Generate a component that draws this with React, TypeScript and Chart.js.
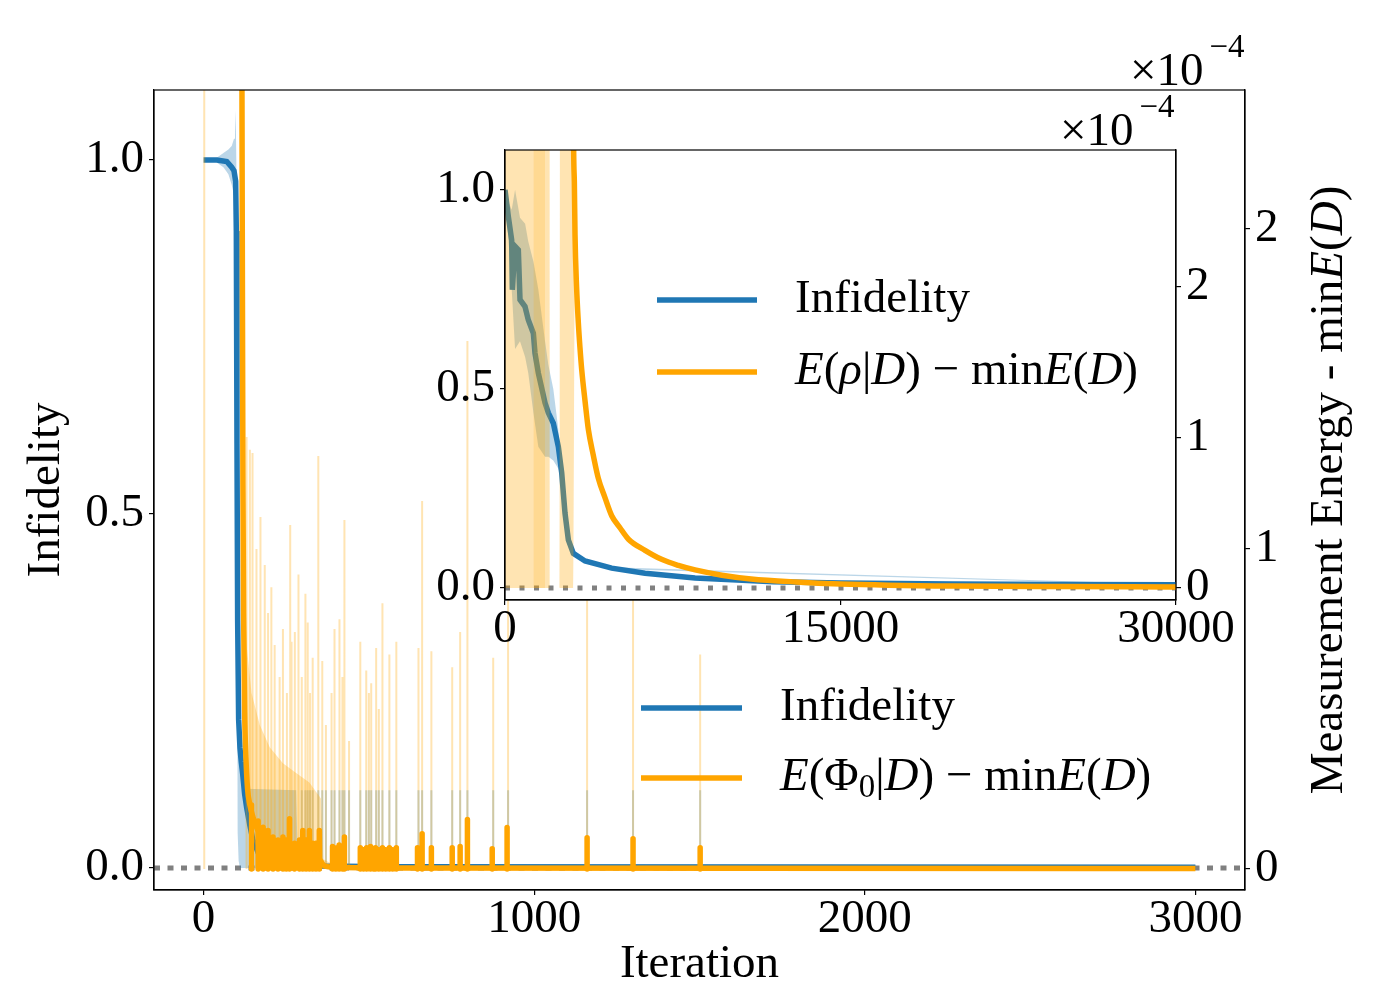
import React, { useEffect, useRef } from "react";
import { Chart, registerables } from "chart.js";

Chart.register(...registerables);

const SERIF = '"Liberation Serif", "Times New Roman", serif';
const BLUE = "#1f77b4";
const ORANGE = "#ffa500";
const BLUE_A = "rgba(31,119,180,0.3)";
const ORANGE_A = "rgba(255,165,0,0.3)";

// ---- main panel (0..3000 iterations) ----
const mainXTicks = [0, 1000, 2000, 3000];
const infTicks = [0, 0.5, 1.0];
const energyTicks = [0, 1, 2];

const blueIter = [0, 40, 70, 85, 92, 97, 99, 101, 103, 106, 110, 114, 118, 124, 130, 140, 149, 165, 179, 209, 260, 330, 600, 3000];
const blueInf = [1.0, 1.0, 0.998, 0.99, 0.985, 0.97, 0.9, 0.6, 0.35, 0.21, 0.17, 0.15, 0.134, 0.105, 0.086, 0.06, 0.04, 0.022, 0.014, 0.006, 0.004, 0.003, 0.002, 0.001];

const blueBandIter = [0, 30, 45, 60, 75, 85, 92, 95, 97, 99, 103, 106, 110, 118, 125, 280, 285, 3000];
const blueBandUpper = [1.0, 1.0, 1.005, 1.01, 1.015, 1.02, 1.03, 1.04, 1.07, 1.0, 0.6, 0.25, 0.15, 0.12, 0.112, 0.11, 0.004, 0.002];
const blueBandLower = [1.0, 1.0, 0.995, 0.99, 0.98, 0.965, 0.95, 0.94, 0.92, 0.85, 0.05, 0.01, 0, 0, 0, 0, 0, 0];

const energyIter = [112, 115, 117, 119, 121, 124, 128, 133, 140, 150, 160, 170, 185, 200, 230, 270, 300, 330, 350, 365, 400, 600, 3000];
const energyVal = [6, 3, 2.0, 1.2, 0.8, 0.5, 0.35, 0.25, 0.2, 0.16, 0.13, 0.11, 0.09, 0.078, 0.06, 0.05, 0.045, 0.04, 0.03, 0.01, 0.005, 0.003, 0.001];

const energyBandIter = [112, 115, 118, 122, 130, 145, 170, 200, 240, 280, 320, 355, 362, 400, 3000];
const energyBandUpper = [10, 10, 2.0, 1.0, 0.7, 0.55, 0.45, 0.38, 0.33, 0.3, 0.27, 0.22, 0.03, 0.01, 0.002];
const energyBandLower = [10, 2.8, 1.3, 0.6, 0.25, 0.1, 0.05, 0.03, 0.01, 0.01, 0.005, 0.005, 0, 0, 0];

// light (band) spikes of the energy, x10^-4
const lightSpikeIter = [2, 130, 140, 148, 160, 172, 185, 195, 205, 215, 230, 240, 252, 262, 266, 276, 287, 297, 308, 315, 322, 330, 347, 359, 370, 387, 396, 411, 420, 426, 440, 474, 492, 500, 507, 522, 530, 541, 562, 583, 650, 661, 689, 752, 776, 798, 876, 921, 1160, 1299, 1502];
const lightSpikeTop = [3, 1.35, 1.31, 1.3, 1.0, 1.1, 0.95, 0.8, 0.88, 0.7, 0.6, 0.75, 0.55, 1.075, 0.71, 0.74, 0.92, 0.6, 0.86, 0.77, 0.55, 0.66, 1.29, 0.65, 0.45, 0.55, 0.75, 0.78, 0.6, 1.09, 0.4, 0.71, 0.62, 0.55, 0.58, 0.69, 0.5, 0.83, 0.67, 0.71, 0.69, 1.15, 0.68, 0.63, 0.74, 1.65, 0.66, 1.2, 1.2, 1.2, 0.67];
const blueSpikeTop = 0.11;

// thick spikes on the mean energy line
const coreSpikeIter = [145, 165, 180, 195, 210, 225, 240, 250, 260, 275, 290, 300, 310, 320, 330, 340, 350, 390, 400, 410, 420, 426, 474, 484, 493, 505, 514, 520, 530, 541, 551, 562, 572, 583, 647, 661, 689, 752, 776, 798, 873, 918, 1160, 1299, 1502];
const coreSpikeTop = [0.2, 0.15, 0.13, 0.12, 0.1, 0.09, 0.1, 0.09, 0.157, 0.08, 0.09, 0.12, 0.09, 0.12, 0.08, 0.08, 0.12, 0.07, 0.065, 0.075, 0.07, 0.1, 0.066, 0.06, 0.066, 0.07, 0.06, 0.066, 0.06, 0.066, 0.06, 0.066, 0.06, 0.066, 0.066, 0.11, 0.066, 0.066, 0.07, 0.154, 0.063, 0.129, 0.097, 0.094, 0.066];

// ---- inset panel (0..30000 iterations) ----
const insetXTicks = [0, 15000, 30000];

const insetIter = [0, 149, 298, 328, 447, 596, 671, 894, 1043, 1267, 1341, 1490, 1789, 1938, 2161, 2385, 2534, 2683, 2832, 3056, 3578, 4770, 6261, 8497, 12000, 15000, 20000, 25000, 30000];
const insetInf = [1.0, 0.933, 0.874, 0.749, 0.858, 0.849, 0.724, 0.707, 0.673, 0.64, 0.59, 0.54, 0.465, 0.44, 0.414, 0.355, 0.29, 0.188, 0.121, 0.087, 0.068, 0.05, 0.037, 0.025, 0.016, 0.013, 0.01, 0.009, 0.008];

const insetBandIter = [0, 150, 300, 450, 670, 900, 1040, 1270, 1490, 1790, 1940, 2160, 2380, 2530, 2680, 2830, 3060, 3580, 4770, 30000];
const insetBandUpper = [1.0, 0.97, 0.95, 1.0, 0.93, 0.915, 0.87, 0.82, 0.75, 0.62, 0.56, 0.5, 0.4, 0.3, 0.2, 0.13, 0.095, 0.072, 0.052, 0.009];
const insetBandLower = [1.0, 0.88, 0.75, 0.6, 0.62, 0.58, 0.54, 0.44, 0.355, 0.33, 0.33, 0.32, 0.3, 0.28, 0.18, 0.112, 0.08, 0.064, 0.048, 0.007];

const insetEIter = [3000, 3056, 3100, 3130, 3200, 3280, 3350, 3430, 3580, 3730, 3950, 4170, 4470, 4770, 5140, 5520, 6260, 7000, 7750, 8500, 9700, 11000, 13000, 15000, 20000, 25000, 30000];
const insetE = [8, 3.2, 2.7, 2.35, 2.0, 1.76, 1.6, 1.45, 1.24, 1.05, 0.88, 0.73, 0.6, 0.48, 0.4, 0.324, 0.25, 0.19, 0.15, 0.12, 0.085, 0.06, 0.04, 0.027, 0.013, 0.009, 0.007];

const insetEBandIter = [0, 1990, 2000, 2450, 2460, 3060, 3130, 3280, 3430, 3730, 4170, 4770, 5520, 7000, 8500, 11000, 15000, 30000];
const insetEBandUpper = [10, 10, 0, 0, 10, 10, 2.45, 1.84, 1.51, 1.09, 0.76, 0.5, 0.34, 0.2, 0.128, 0.065, 0.03, 0.008];
const insetEBandLower = [0, 0, 0, 0, 0, 0, 2.25, 1.68, 1.39, 1.01, 0.7, 0.46, 0.31, 0.18, 0.112, 0.055, 0.024, 0.006];
const insetEDarkIter = [1270, 1790];
const insetEDarkTop = [10, 10];

type Seg = { t: string; i?: boolean; sub?: boolean };

const infLabel: Seg[] = [{ t: "Infidelity" }];
const phiLabel: Seg[] = [
  { t: "E", i: true }, { t: "(Φ" }, { t: "0", sub: true }, { t: "|" }, { t: "D", i: true },
  { t: ") − min" }, { t: "E", i: true }, { t: "(" }, { t: "D", i: true }, { t: ")" },
];
const rhoLabel: Seg[] = [
  { t: "E", i: true }, { t: "(" }, { t: "ρ", i: true }, { t: "|" }, { t: "D", i: true },
  { t: ") − min" }, { t: "E", i: true }, { t: "(" }, { t: "D", i: true }, { t: ")" },
];
const rightTitle: Seg[] = [{ t: "Measurement Energy - min" }, { t: "E", i: true }, { t: "(" }, { t: "D", i: true }, { t: ")" }];

function pts(xs: number[], ys: number[]) {
  return xs.map((x, i) => ({ x, y: ys[i] }));
}

function spikes(xs: number[], tops: number[] | number) {
  const out: any[] = [];
  xs.forEach((x, i) => {
    const top = typeof tops === "number" ? tops : tops[i];
    out.push({ x, y: 0 }, { x, y: top }, { x, y: null });
  });
  return out;
}

function setFont(ctx: CanvasRenderingContext2D, s: Seg, size: number) {
  const sz = s.sub ? size * 0.7 : size;
  ctx.font = `${s.i ? "italic " : ""}${sz}px ${SERIF}`;
}

function richWidth(ctx: CanvasRenderingContext2D, segs: Seg[], size: number) {
  let w = 0;
  segs.forEach((s) => { setFont(ctx, s, size); w += ctx.measureText(s.t).width; });
  return w;
}

function drawRich(ctx: CanvasRenderingContext2D, segs: Seg[], x: number, y: number, size: number) {
  let cx = x;
  segs.forEach((s) => {
    setFont(ctx, s, size);
    ctx.fillText(s.t, cx, s.sub ? y + size * 0.22 : y);
    cx += ctx.measureText(s.t).width;
  });
}

type Decor = {
  white?: boolean;
  legend: { x1: number; x2: number; tx: number; rows: { color: string; y: number; segs: Seg[] }[] };
  exp: { x: number; y: number };
  rightTitle?: { x: number; y: number };
};

function decorPlugin(cfg: Decor) {
  return {
    id: "decor",
    beforeDraw(chart: any) {
      if (!cfg.white) return;
      const { ctx, chartArea: a } = chart;
      ctx.save();
      ctx.fillStyle = "#fff";
      ctx.fillRect(a.left, a.top, a.right - a.left, a.bottom - a.top);
      ctx.restore();
    },
    afterDatasetsDraw(chart: any) {
      const { ctx, chartArea: a } = chart;
      ctx.save();
      ctx.strokeStyle = "#000";
      ctx.lineWidth = 1.2;
      ctx.strokeRect(a.left, a.top, a.right - a.left, a.bottom - a.top);
      ctx.restore();
    },
    afterDraw(chart: any) {
      const ctx: CanvasRenderingContext2D = chart.ctx;
      ctx.save();
      ctx.fillStyle = "#000";
      ctx.textBaseline = "middle";
      ctx.textAlign = "left";
      const lg = cfg.legend;
      lg.rows.forEach((r) => {
        ctx.strokeStyle = r.color;
        ctx.lineWidth = 5.5;
        ctx.lineCap = "butt";
        ctx.beginPath();
        ctx.moveTo(lg.x1, r.y);
        ctx.lineTo(lg.x2, r.y);
        ctx.stroke();
        drawRich(ctx, r.segs, lg.tx, r.y, 47);
      });
      // offset text of the right axis
      ctx.textBaseline = "alphabetic";
      ctx.font = `47px ${SERIF}`;
      ctx.fillText("×10", cfg.exp.x, cfg.exp.y);
      const w = ctx.measureText("×10").width;
      ctx.font = `33px ${SERIF}`;
      ctx.fillText("−4", cfg.exp.x + w + 6, cfg.exp.y - 28);
      if (cfg.rightTitle) {
        ctx.translate(cfg.rightTitle.x, cfg.rightTitle.y);
        ctx.rotate(-Math.PI / 2);
        ctx.textBaseline = "middle";
        const tw = richWidth(ctx, rightTitle, 47);
        drawRich(ctx, rightTitle, -tw / 2, 0, 47);
      }
      ctx.restore();
    },
  };
}

const tickFont = { family: SERIF, size: 47, lineHeight: 1 };

function axis(position: string, min: number, max: number, values: number[], fmt: (v: number) => string, size: number, title?: any) {
  const horiz = position === "bottom";
  return {
    type: "linear",
    position,
    min,
    max,
    grid: { drawOnChartArea: false, drawTicks: true, tickLength: 5, color: "#000", lineWidth: 1.2 },
    border: { display: true, color: "#000", width: 1.2 },
    ticks: {
      color: "#000",
      font: tickFont,
      padding: horiz ? 1 : 5,
      autoSkip: false,
      maxRotation: 0,
      minRotation: 0,
      callback: (v: any) => fmt(Number(v)),
    },
    title: title || { display: false },
    afterBuildTicks: (s: any) => {
      s.ticks = values.map((v) => ({ value: v }));
    },
    afterFit: (s: any) => {
      if (horiz) s.height = size;
      else s.width = size;
    },
  };
}

const line = (data: any[], color: string, width: number, yAxisID: string, order: number, extra: any = {}) => ({
  type: "line",
  data,
  borderColor: color,
  borderWidth: width,
  pointRadius: 0,
  tension: 0,
  fill: false,
  yAxisID,
  order,
  ...extra,
});

const smooth = { cubicInterpolationMode: "monotone" };

export default function App() {
  const mainRef = useRef<HTMLCanvasElement | null>(null);
  const insetRef = useRef<HTMLCanvasElement | null>(null);

  useEffect(() => {
    if (!mainRef.current || !insetRef.current) return;

    const mainChart = new Chart(mainRef.current, {
      type: "line",
      data: {
        datasets: [
          line(pts(blueBandIter, blueBandLower), "rgba(0,0,0,0)", 0, "y", 9),
          line(pts(blueBandIter, blueBandUpper), "rgba(0,0,0,0)", 0, "y", 9, { fill: { target: 0 }, backgroundColor: BLUE_A }),
          line(spikes(lightSpikeIter.filter((x) => x >= 290), blueSpikeTop), BLUE_A, 2, "y", 8),
          line(pts(blueIter, blueInf), BLUE, 5.5, "y", 7),
          line(pts(energyBandIter, energyBandLower), "rgba(0,0,0,0)", 0, "y2", 6),
          line(pts(energyBandIter, energyBandUpper), "rgba(0,0,0,0)", 0, "y2", 6, { fill: { target: 4 }, backgroundColor: ORANGE_A }),
          line(spikes(lightSpikeIter, lightSpikeTop), ORANGE_A, 2, "y2", 5),
          line(pts(energyIter, energyVal), ORANGE, 5.5, "y2", 4, smooth),
          line(spikes(coreSpikeIter, coreSpikeTop), ORANGE, 5.5, "y2", 3, { borderCapStyle: "round" }),
          line(pts([-150, 3150], [0, 0]), "#808080", 5, "y", 10, { borderDash: [6, 7.5] }),
        ] as any,
      },
      options: {
        animation: false,
        responsive: false,
        layout: { padding: { top: 90, left: 0, right: 0, bottom: 0 } },
        plugins: { legend: { display: false }, tooltip: { enabled: false } },
        scales: {
          x: axis("bottom", -150, 3150, mainXTicks, (v) => String(v), 110, {
            display: true, text: "Iteration", color: "#000",
            font: { family: SERIF, size: 47, lineHeight: 1.2 }, padding: { top: 0, bottom: 7 },
          }),
          y: axis("left", -0.031, 1.099, infTicks, (v) => v.toFixed(1), 154, {
            display: true, text: "Infidelity", color: "#000",
            font: { family: SERIF, size: 47, lineHeight: 1.2 }, padding: { top: 18, bottom: 0 },
          }),
          y2: axis("right", -0.066, 2.434, energyTicks, (v) => String(v), 155),
        } as any,
      },
      plugins: [
        decorPlugin({
          legend: {
            x1: 641, x2: 742, tx: 780,
            rows: [
              { color: BLUE, y: 708, segs: infLabel },
              { color: ORANGE, y: 778, segs: phiLabel },
            ],
          },
          exp: { x: 1130, y: 85 },
          rightTitle: { x: 1330, y: 490 },
        }),
      ],
    });

    const insetChart = new Chart(insetRef.current, {
      type: "line",
      data: {
        datasets: [
          line(pts(insetBandIter, insetBandLower), "rgba(0,0,0,0)", 0, "y", 9),
          line(pts(insetBandIter, insetBandUpper), "rgba(0,0,0,0)", 0, "y", 9, { fill: { target: 0 }, backgroundColor: BLUE_A }),
          line(pts(insetIter, insetInf), BLUE, 5.5, "y", 7),
          line(pts(insetEBandIter, insetEBandLower), "rgba(0,0,0,0)", 0, "y2", 6, smooth),
          line(pts(insetEBandIter, insetEBandUpper), "rgba(0,0,0,0)", 0, "y2", 6, { ...smooth, fill: { target: 3 }, backgroundColor: ORANGE_A }),
          line(pts(insetEDarkIter, insetEDarkTop), "rgba(0,0,0,0)", 0, "y2", 5, { fill: "origin", backgroundColor: "rgba(255,165,0,0.18)" }),
          line(pts(insetEIter, insetE), ORANGE, 5.5, "y2", 4, smooth),
          line(pts([0, 30000], [0, 0]), "#808080", 5, "y", 10, { borderDash: [5, 9.5] }),
        ] as any,
      },
      options: {
        animation: false,
        responsive: false,
        layout: { padding: { top: 150, left: 405, right: 124, bottom: 330 } },
        plugins: { legend: { display: false }, tooltip: { enabled: false } },
        scales: {
          x: axis("bottom", 0, 30000, insetXTicks, (v) => String(v), 70),
          y: axis("left", -0.03, 1.1, infTicks, (v) => v.toFixed(1), 100),
          y2: axis("right", -0.08, 2.91, energyTicks, (v) => String(v), 100),
        } as any,
      },
      plugins: [
        decorPlugin({
          white: true,
          legend: {
            x1: 657, x2: 757, tx: 795,
            rows: [
              { color: BLUE, y: 300, segs: infLabel },
              { color: ORANGE, y: 372, segs: rhoLabel },
            ],
          },
          exp: { x: 1060, y: 145 },
        }),
      ],
    });

    return () => {
      mainChart.destroy();
      insetChart.destroy();
    };
  }, []);

  return (
    <div style={{ position: "absolute", left: 0, top: 0, width: 1400, height: 1000, background: "#fff" }}>
      <canvas ref={mainRef} width={1400} height={1000} style={{ position: "absolute", left: 0, top: 0 }} />
      <canvas ref={insetRef} width={1400} height={1000} style={{ position: "absolute", left: 0, top: 0 }} />
    </div>
  );
}
